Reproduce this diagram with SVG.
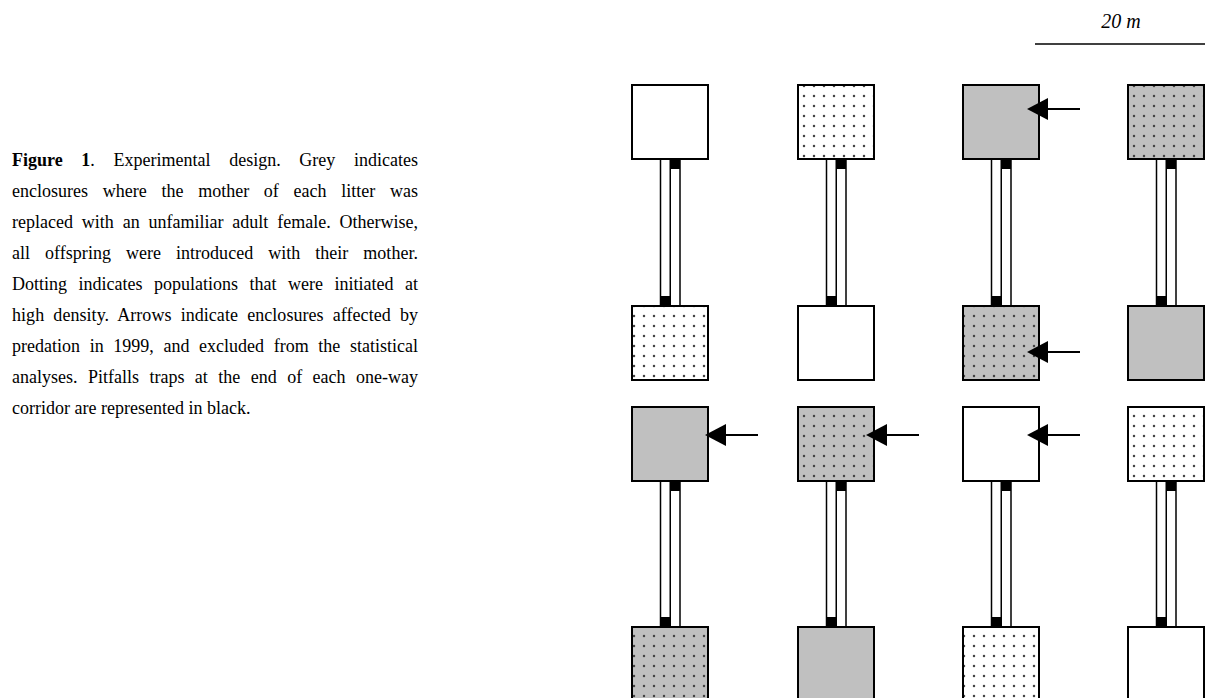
<svg xmlns="http://www.w3.org/2000/svg" width="1209" height="698" viewBox="0 0 1209 698">
<style>
.box{stroke:#000;stroke-width:2}
.w{fill:#fff}
.g{fill:#c0c0c0}
.dw{fill:url(#dotsW)}
.dg{fill:url(#dotsG)}
.cor{fill:#fff;stroke:#000;stroke-width:1.5}
.mid{stroke:#000;stroke-width:1.5}
.trap{fill:#000}
.arr{stroke:#000;stroke-width:2;marker-end:url(#head)}
.cap{font-family:"Liberation Serif","Times New Roman",serif;font-size:18px;fill:#000}
</style>
<defs>
<pattern id="dotsW" patternUnits="userSpaceOnUse" width="10" height="10">
<rect width="10" height="10" fill="#fff"/><circle cx="4" cy="6" r="1.25" fill="#444"/>
</pattern>
<pattern id="dotsG" patternUnits="userSpaceOnUse" width="10" height="10">
<rect width="10" height="10" fill="#c0c0c0"/><circle cx="4" cy="6" r="1.25" fill="#444"/>
</pattern>
<marker id="head" markerUnits="userSpaceOnUse" markerWidth="22" markerHeight="22" refX="11" refY="11" orient="auto" viewBox="0 0 22 22">
<path d="M0,0 L21,11 L0,22 z" fill="#000"/>
</marker>
</defs>
<rect width="1209" height="698" fill="#fff"/>

<g id="caption" class="cap">
<text x="12" y="166" word-spacing="14.1" textLength="406" lengthAdjust="spacing"><tspan font-weight="bold">Figure 1</tspan>. Experimental design. Grey indicates</text>
<text x="12" y="197" word-spacing="10.2" textLength="406" lengthAdjust="spacing">enclosures where the mother of each litter was</text>
<text x="12" y="228" word-spacing="4.35" textLength="406" lengthAdjust="spacing">replaced with an unfamiliar adult female. Otherwise,</text>
<text x="12" y="259" word-spacing="10.4" textLength="406" lengthAdjust="spacing">all offspring were introduced with their mother.</text>
<text x="12" y="290" word-spacing="7" textLength="406" lengthAdjust="spacing">Dotting indicates populations that were initiated at</text>
<text x="12" y="321" word-spacing="4.6" textLength="406" lengthAdjust="spacing">high density. Arrows indicate enclosures affected by</text>
<text x="12" y="352" word-spacing="5.14" textLength="406" lengthAdjust="spacing">predation in 1999, and excluded from the statistical</text>
<text x="12" y="383" word-spacing="5.95" textLength="406" lengthAdjust="spacing">analyses. Pitfalls traps at the end of each one-way</text>
<text x="12" y="414">corridor are represented in black.</text>
</g>

<g id="scale">
<text x="1121" y="28" class="cap" font-size="20" style="font-size:20px" font-style="italic" text-anchor="middle">20 m</text>
<line x1="1035" y1="44" x2="1205" y2="44" stroke="#000" stroke-width="1.5"/>
</g>

<g id="connectors">
<rect class="cor" x="660.5" y="159" width="19.5" height="147"/><line class="mid" x1="670.25" y1="159" x2="670.25" y2="306"/>
<rect class="trap" x="670.25" y="159" width="9.75" height="10"/><rect class="trap" x="660.5" y="296" width="9.75" height="10"/>
<rect class="cor" x="826.5" y="159" width="19.5" height="147"/><line class="mid" x1="836.25" y1="159" x2="836.25" y2="306"/>
<rect class="trap" x="836.25" y="159" width="9.75" height="10"/><rect class="trap" x="826.5" y="296" width="9.75" height="10"/>
<rect class="cor" x="991.5" y="159" width="19.5" height="147"/><line class="mid" x1="1001.25" y1="159" x2="1001.25" y2="306"/>
<rect class="trap" x="1001.25" y="159" width="9.75" height="10"/><rect class="trap" x="991.5" y="296" width="9.75" height="10"/>
<rect class="cor" x="1156.5" y="159" width="19.5" height="147"/><line class="mid" x1="1166.25" y1="159" x2="1166.25" y2="306"/>
<rect class="trap" x="1166.25" y="159" width="9.75" height="10"/><rect class="trap" x="1156.5" y="296" width="9.75" height="10"/>
<rect class="cor" x="660.5" y="481" width="19.5" height="146"/><line class="mid" x1="670.25" y1="481" x2="670.25" y2="627"/>
<rect class="trap" x="670.25" y="481" width="9.75" height="10"/><rect class="trap" x="660.5" y="617" width="9.75" height="10"/>
<rect class="cor" x="826.5" y="481" width="19.5" height="146"/><line class="mid" x1="836.25" y1="481" x2="836.25" y2="627"/>
<rect class="trap" x="836.25" y="481" width="9.75" height="10"/><rect class="trap" x="826.5" y="617" width="9.75" height="10"/>
<rect class="cor" x="991.5" y="481" width="19.5" height="146"/><line class="mid" x1="1001.25" y1="481" x2="1001.25" y2="627"/>
<rect class="trap" x="1001.25" y="481" width="9.75" height="10"/><rect class="trap" x="991.5" y="617" width="9.75" height="10"/>
<rect class="cor" x="1156.5" y="481" width="19.5" height="146"/><line class="mid" x1="1166.25" y1="481" x2="1166.25" y2="627"/>
<rect class="trap" x="1166.25" y="481" width="9.75" height="10"/><rect class="trap" x="1156.5" y="617" width="9.75" height="10"/>
</g>

<g id="enclosures">
<g id="r1c1"><rect class="box w" x="632" y="85" width="76" height="74"/></g>
<g id="r1c2"><rect class="box dw" x="798" y="85" width="76" height="74"/></g>
<g id="r1c3"><rect class="box g" x="963" y="85" width="76" height="74"/></g>
<g id="r1c4"><rect class="box dg" x="1128" y="85" width="76" height="74"/></g>
<g id="r2c1"><rect class="box dw" x="632" y="306" width="76" height="74"/></g>
<g id="r2c2"><rect class="box w" x="798" y="306" width="76" height="74"/></g>
<g id="r2c3"><rect class="box dg" x="963" y="306" width="76" height="74"/></g>
<g id="r2c4"><rect class="box g" x="1128" y="306" width="76" height="74"/></g>
<g id="r3c1"><rect class="box g" x="632" y="407" width="76" height="74"/></g>
<g id="r3c2"><rect class="box dg" x="798" y="407" width="76" height="74"/></g>
<g id="r3c3"><rect class="box w" x="963" y="407" width="76" height="74"/></g>
<g id="r3c4"><rect class="box dw" x="1128" y="407" width="76" height="74"/></g>
<g id="r4c1"><rect class="box dg" x="632" y="627" width="76" height="76"/></g>
<g id="r4c2"><rect class="box g" x="798" y="627" width="76" height="76"/></g>
<g id="r4c3"><rect class="box dw" x="963" y="627" width="76" height="76"/></g>
<g id="r4c4"><rect class="box w" x="1128" y="627" width="76" height="76"/></g>
</g>

<g id="arrows">
<line class="arr" x1="1080" y1="109" x2="1037" y2="109"/>
<line class="arr" x1="1080" y1="352" x2="1037" y2="352"/>
<line class="arr" x1="758" y1="435" x2="715" y2="435"/>
<line class="arr" x1="919" y1="435" x2="876" y2="435"/>
<line class="arr" x1="1080" y1="435" x2="1037" y2="435"/>
</g>
</svg>
